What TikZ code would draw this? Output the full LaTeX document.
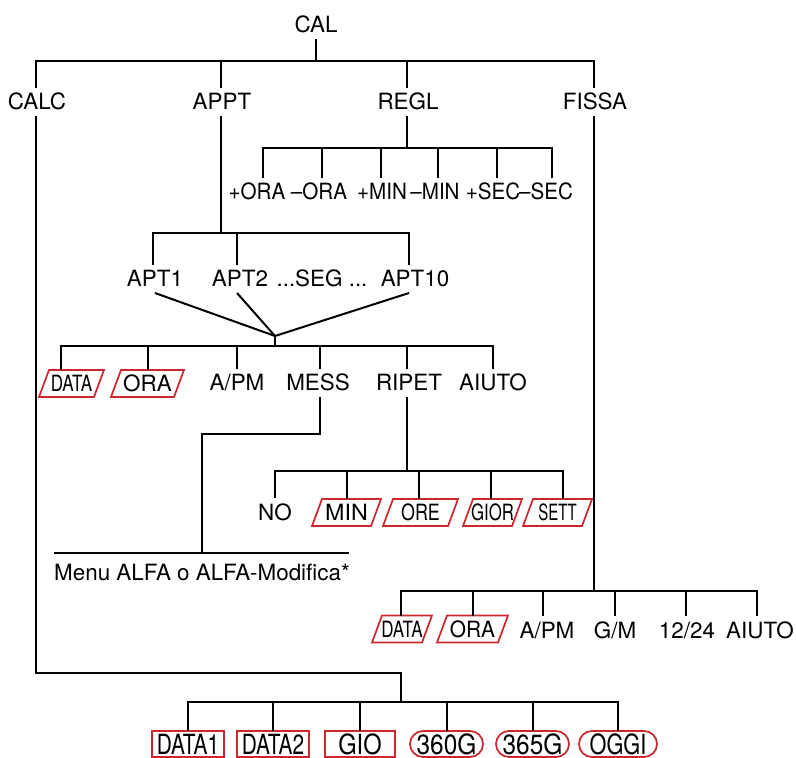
\documentclass[tikz,border=0pt]{standalone}
\usepackage{fontspec}
\usepackage{graphicx}
\setmainfont{TeX Gyre Heros}
\definecolor{hpred}{RGB}{205,38,45}
\newcommand{\sx}[2]{\scalebox{#1}[1]{#2}}
\begin{document}
\begin{tikzpicture}[x=0.5pt,y=-0.5pt,
  lbl/.style={inner sep=0pt, outer sep=3pt, text height=8pt, text depth=0pt, font=\fontsize{11.2}{13}\selectfont},
  boxn/.style={inner sep=0pt, outer sep=0pt, text height=8pt, text depth=0pt, minimum height=13.5pt, minimum width=#1, font=\fontsize{11.2}{13}\selectfont},
  rectb/.style={boxn=#1, minimum height=13pt, text height=10pt, font=\fontsize{13.9}{15}\selectfont, draw=hpred, line width=0.85pt},
  roundb/.style={rectb=#1, rounded corners=6.5pt},
  redpara/.style={draw=hpred, line width=0.85pt, line join=miter},
  conn/.style={draw, line width=1pt},
]
\fill[white] (0,0) rectangle (796,758);
\useasboundingbox (0,0) rectangle (796,758);

% level 0 and 1
\node[lbl] (cal) at (316,25) {CAL};
\node[lbl] (calc) at (37,102) {CALC};
\node[lbl] (appt) at (222,102) {APPT};
\node[lbl] (regl) at (408,102) {REGL};
\node[lbl] (fissa) at (595,102) {FISSA};

% REGL children
\node[lbl] (pora) at (257,192) {\sx{0.92}{+ORA}};
\node[lbl] (mora) at (319,192) {\sx{0.92}{–ORA}};
\node[lbl] (pmin) at (382,192) {\sx{0.92}{+MIN}};
\node[lbl] (mmin) at (435,192) {\sx{0.92}{–MIN}};
\node[lbl] (psec) at (493,192) {\sx{0.92}{+SEC}};
\node[lbl] (msec) at (546,192) {\sx{0.92}{–SEC}};

% APPT children
\node[lbl] (apt1) at (155,279) {APT1};
\node[lbl] (apt2) at (240,279) {APT2};
\node[lbl] (seg) at (322,279) {...SEG ...};
\node[lbl] (apt10) at (415,279) {APT10};

% appointment menu
\node[boxn=32.5pt] (data1) at (71.5,383.5) {\sx{0.76}{DATA}};
\node[boxn=36.5pt] (ora1) at (147.5,383.5) {ORA};
\node[lbl] (apm1) at (237,383) {A/PM};
\node[lbl] (mess) at (318,383) {MESS};
\node[lbl] (ripet) at (409,383) {RIPET};
\node[lbl] (aiuto1) at (493,383) {AIUTO};

% RIPET children
\node[lbl] (no) at (275,512) {NO};
\node[boxn=34.5pt] (min) at (346.5,512.5) {\sx{1.04}{MIN}};
\node[boxn=37.5pt] (ore) at (420.5,512.5) {\sx{0.8}{ORE}};
\node[boxn=29.5pt] (gior) at (492.5,512.5) {\sx{0.75}{GIOR}};
\node[boxn=34.5pt] (sett) at (557.5,512.5) {\sx{0.67}{SETT}};

% MESS target
\node[lbl] (menu) at (202,572) {Menu ALFA o ALFA-Modifica*};

% FISSA children
\node[boxn=30pt] (data2) at (402,629) {\sx{0.76}{DATA}};
\node[boxn=35.5pt] (ora2) at (472.5,629) {\sx{0.93}{ORA}};
\node[lbl] (apm2) at (547,630) {A/PM};
\node[lbl] (gm) at (615,630) {G/M};
\node[lbl] (h1224) at (687,630) {12/24};
\node[lbl] (aiuto2) at (760,630) {AIUTO};

% CALC children
\node[rectb=36pt] (data1b) at (188,744) {\sx{0.75}{DATA1}};
\node[rectb=36pt] (data2b) at (273,744) {\sx{0.75}{DATA2}};
\node[rectb=35pt] (gio) at (360,744) {\sx{0.85}{GIO}};
\node[roundb=36.5pt] (g360) at (446.5,744) {\sx{0.88}{360G}};
\node[roundb=36.5pt] (g365) at (532.5,744) {\sx{0.88}{365G}};
\node[roundb=39pt] (oggi) at (618,744) {\sx{0.78}{OGGI}};

% parallelogram frames
\foreach \n in {data1,ora1,min,ore,gior,sett,data2,ora2}
  \draw[redpara] (\n.south west) -- ([xshift=5pt]\n.north west) -- (\n.north east) -- ([xshift=-5pt]\n.south east) -- cycle;

% top level connectors
\coordinate (topbus) at (316,61);
\draw[conn] (cal.south) -- (topbus);
\draw[conn] ([xshift=-0.5pt]calc.north) |- (topbus) -| ([xshift=-0.5pt]fissa.north);
\draw[conn] ([xshift=-0.5pt]appt.north) |- (topbus);
\draw[conn] ([xshift=-0.5pt]regl.north) |- (topbus);

% REGL
\coordinate (reglbus) at (407,148);
\draw[conn] ([xshift=-0.5pt]regl.south) -- (reglbus);
\draw[conn] ([xshift=3pt]pora.north) |- (reglbus);
\draw[conn] ([xshift=1.5pt]mora.north) |- (reglbus);
\draw[conn] ([xshift=-0.5pt]pmin.north) |- (reglbus);
\draw[conn] ([xshift=1.5pt]mmin.north) |- (reglbus);
\draw[conn] ([xshift=2pt]psec.north) |- (reglbus);
\draw[conn] ([xshift=3pt]msec.north) |- (reglbus);

% APPT
\coordinate (apptbus) at (221,233);
\draw[conn] ([xshift=-0.5pt]appt.south) -- (apptbus);
\draw[conn] ([xshift=-1pt]apt1.north) |- (apptbus);
\draw[conn] ([xshift=-1.5pt]apt2.north) |- (apptbus);
\draw[conn] ([xshift=-3pt]apt10.north) |- (apptbus);

\coordinate (conv) at (275,336);
\coordinate (databus) at (275,346);
\draw[conn] (apt1.south) -- (conv);
\draw[conn] ([xshift=-1.5pt]apt2.south) -- (conv);
\draw[conn] ([xshift=-3pt]apt10.south) -- (conv);
\draw[conn] (conv) -- (databus);

\draw[conn] ([xshift=-5.25pt]data1.north) |- (databus);
\draw[conn] (ora1.north) |- (databus);
\draw[conn] (apm1.north) |- (databus);
\draw[conn] ([xshift=1pt]mess.north) |- (databus);
\draw[conn] ([xshift=-1pt]ripet.north) |- (databus);
\draw[conn] (aiuto1.north) |- (databus);

% MESS -> menu
\coordinate (messbend) at (202,434);
\coordinate (menuL) at (54,553);
\coordinate (menuR) at (349,553);
\draw[conn] (menuL) -- (menuR);
\draw[conn] ([xshift=1pt]mess.south) |- (messbend) -- (messbend |- menuL);

% RIPET
\coordinate (ripbus) at (407,471);
\draw[conn] ([xshift=-1pt]ripet.south) -- (ripbus);
\draw[conn] (no.north) |- (ripbus);
\draw[conn] (min.north) |- (ripbus);
\draw[conn] ([xshift=-0.75pt]ore.north) |- (ripbus);
\draw[conn] ([xshift=-0.75pt]gior.north) |- (ripbus);
\draw[conn] ([xshift=2.75pt]sett.north) |- (ripbus);

% FISSA
\coordinate (fisbus) at (594,591);
\draw[conn] ([xshift=-0.5pt]fissa.south) -- (fisbus);
\draw[conn] ([xshift=-0.5pt]data2.north) |- (fisbus);
\draw[conn] (ora2.north) |- (fisbus);
\draw[conn] ([xshift=-2pt]apm2.north) |- (fisbus);
\draw[conn] (gm.north) |- (fisbus);
\draw[conn] ([xshift=-0.5pt]h1224.north) |- (fisbus);
\draw[conn] ([xshift=-1.5pt]aiuto2.north) |- (fisbus);

% CALC
\coordinate (calcbend) at (36,673);
\coordinate (calcbus) at (401,702);
\draw[conn] ([xshift=-0.5pt]calc.south) |- (calcbus |- calcbend) -- (calcbus);
\draw[conn] (data1b.north) |- (calcbus);
\draw[conn] (data2b.north) |- (calcbus);
\draw[conn] (gio.north) |- (calcbus);
\draw[conn] (g360.north) |- (calcbus);
\draw[conn] (g365.north) |- (calcbus);
\draw[conn] (oggi.north) |- (calcbus);
\end{tikzpicture}
\end{document}
